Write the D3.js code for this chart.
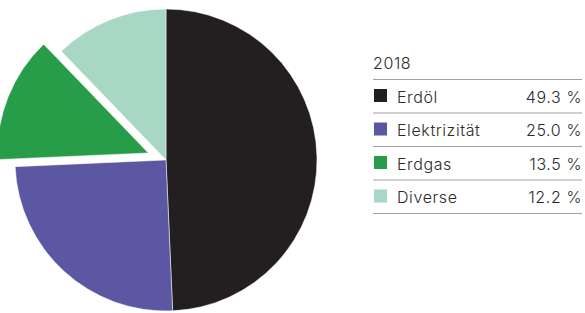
<!DOCTYPE html>
<html>
<head>
<meta charset="utf-8">
<script src="https://cdn.jsdelivr.net/npm/d3@7"></script>
<style>
  body { margin: 0; background: #fff; }
  text { font-family: Inter, "Noto Sans", sans-serif; font-weight: 300; fill: #2b2b2b; letter-spacing: 0.6px; }
</style>
</head>
<body>
<div id="chart"></div>
<script>
const categories = ['Erdöl', 'Elektrizität', 'Erdgas', 'Diverse'];
const values = [49.3, 25.0, 13.5, 12.2];
const colors = ['#231f20', '#5b57a2', '#279d49', '#a8d8c4'];
const exploded = ['Erdgas'];
const year = '2018';

const width = 585;
const height = 313;

const svg = d3.select('#chart')
  .append('svg')
  .attr('width', width)
  .attr('height', height);

// pie
const cx = 166, cy = 160, radius = 151, pull = 19;
const data = categories.map((c, i) => ({ name: c, value: values[i], color: colors[i] }));

const pie = d3.pie().sort(null).value(d => d.value);
const arc = d3.arc().innerRadius(0).outerRadius(radius);

const g = svg.append('g').attr('transform', `translate(${cx},${cy})`);

g.selectAll('path')
  .data(pie(data))
  .enter()
  .append('path')
  .attr('d', arc)
  .attr('fill', d => d.data.color)
  .attr('stroke', '#fff')
  .attr('stroke-width', 0.5)
  .attr('transform', d => {
    if (!exploded.includes(d.data.name)) return null;
    const a = (d.startAngle + d.endAngle) / 2;
    return `translate(${Math.sin(a) * pull},${-Math.cos(a) * pull})`;
  });

// legend
const lx = 374, rx = 582;
const legend = svg.append('g');

legend.append('text')
  .attr('x', lx - 1)
  .attr('y', 69)
  .attr('font-size', 16)
  .text(year);

const y = d3.scaleBand()
  .domain(categories)
  .range([79, 213]);

legend.selectAll('line')
  .data([categories[0]].concat(categories))
  .enter()
  .append('line')
  .attr('x1', lx - 1)
  .attr('x2', rx)
  .attr('y1', (d, i) => i === 0 ? y(d) + 0.5 : y(d) + y.bandwidth() + 0.5)
  .attr('y2', (d, i) => i === 0 ? y(d) + 0.5 : y(d) + y.bandwidth() + 0.5)
  .attr('stroke', '#a0a0a0')
  .attr('stroke-width', 1);

const rows = legend.selectAll('g.row')
  .data(data)
  .enter()
  .append('g')
  .attr('class', 'row')
  .attr('transform', d => `translate(0,${y(d.name)})`);

rows.append('rect')
  .attr('x', lx)
  .attr('y', 10)
  .attr('width', 13)
  .attr('height', 13)
  .attr('fill', d => d.color);

rows.append('text')
  .attr('x', 397)
  .attr('y', 23.5)
  .attr('font-size', 16)
  .text(d => d.name);

rows.append('text')
  .attr('x', rx)
  .attr('y', 23.5)
  .attr('font-size', 16)
  .attr('text-anchor', 'end')
  .text(d => d3.format('.1f')(d.value) + ' %');
</script>
</body>
</html>
